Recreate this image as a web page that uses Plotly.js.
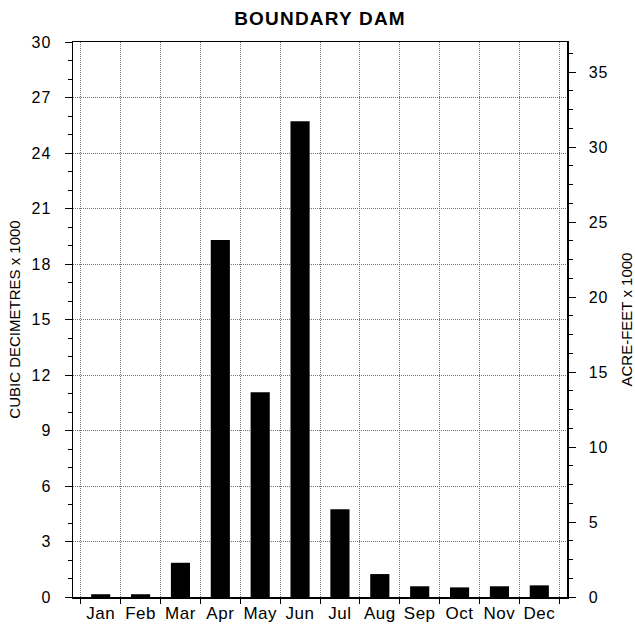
<!DOCTYPE html>
<html>
<head>
<meta charset="utf-8">
<script src="https://cdn.plot.ly/plotly-3.0.1.min.js"></script>
<style>
  html, body { margin: 0; padding: 0; background: #fff; }
  #chart { width: 635px; height: 631px; }
  /* the reference lettering is slightly wider than Arial */
  #chart .xtick text { letter-spacing: 0.5px; }
  #chart .ytick text, #chart .y2tick text { letter-spacing: 1px; }
  #chart .gtitle { letter-spacing: 1.2px; }
</style>
</head>
<body>
<div id="chart"></div>
<script>
// ---- data ----
const months = ['Jan', 'Feb', 'Mar', 'Apr', 'May', 'Jun', 'Jul', 'Aug', 'Sep', 'Oct', 'Nov', 'Dec'];
const cubicDecametres = [0.15, 0.15, 1.85, 19.3, 11.07, 25.72, 4.74, 1.24, 0.58, 0.52, 0.58, 0.63];
const leftTicks = [0, 3, 6, 9, 12, 15, 18, 21, 24, 27, 30];
const rightTicks = [0, 5, 10, 15, 20, 25, 30, 35];
const chartTitle = 'BOUNDARY DAM';
const leftTitle = 'CUBIC DECIMETRES x 1000';
const rightTitle = 'ACRE-FEET x 1000';

const FONT = 'Liberation Sans, Arial, Helvetica, sans-serif';
const leftMax = 30;
const rightMax = 37.005; // 30 thousand dam3 expressed in acre-feet

const traces = [
  {
    type: 'bar',
    x: months,
    y: cubicDecametres,
    marker: { color: '#000000', line: { width: 0 } },
    hoverinfo: 'skip',
    showlegend: false
  },
  {
    // invisible helper so the right-hand axis is drawn
    type: 'scatter',
    mode: 'markers',
    x: months,
    y: cubicDecametres,
    yaxis: 'y2',
    marker: { opacity: 0, size: 1 },
    hoverinfo: 'skip',
    showlegend: false
  }
];

const GRID = '#707070';
const GRIDDASH = '1px,1px';

const layout = {
  width: 635,
  height: 631,
  margin: { l: 73, r: 68, t: 42, b: 34, pad: 0 },
  paper_bgcolor: '#ffffff',
  plot_bgcolor: '#ffffff',
  font: { family: FONT, color: '#000000', size: 15 },
  showlegend: false,
  bargap: 0.52,
  title: {
    text: chartTitle,
    font: { family: FONT, size: 19, weight: 'bold', color: '#000000' },
    x: 0.5, xref: 'paper', xanchor: 'center',
    y: 1 - 18 / 631, yref: 'container', yanchor: 'middle'
  },
  xaxis: {
    type: 'category',
    tickson: 'boundaries',
    tickangle: 0,
    ticks: 'outside', ticklen: 5, tickwidth: 1, tickcolor: '#000000',
    showline: true, linecolor: '#000000', linewidth: 1.5, mirror: true,
    showgrid: true, gridcolor: GRID, griddash: GRIDDASH, gridwidth: 1,
    zeroline: false,
    tickfont: { family: FONT, size: 17, color: '#000000' },
    automargin: false,
    fixedrange: true
  },
  yaxis: {
    range: [0, leftMax],
    tickmode: 'array', tickvals: leftTicks, ticktext: leftTicks.map(String),
    ticks: 'outside', ticklen: 7, tickwidth: 1, tickcolor: '#000000',
    showline: true, linecolor: '#000000', linewidth: 1.5,
    showgrid: true, gridcolor: GRID, griddash: GRIDDASH, gridwidth: 1,
    zeroline: false,
    minor: { dtick: 1, tick0: 0, ticks: 'outside', ticklen: 4, tickcolor: '#000000', showgrid: false },
    tickfont: { family: FONT, size: 16, color: '#000000' },
    ticklabelstandoff: 10,
    title: { text: leftTitle, font: { family: FONT, size: 15, color: '#000000' }, standoff: 9 },
    automargin: false,
    fixedrange: true
  },
  yaxis2: {
    overlaying: 'y', side: 'right',
    range: [0, rightMax],
    tickmode: 'array', tickvals: rightTicks, ticktext: rightTicks.map(String),
    ticks: 'outside', ticklen: 7, tickwidth: 1, tickcolor: '#000000',
    showline: true, linecolor: '#000000', linewidth: 1.5,
    showgrid: false, zeroline: false,
    minor: { dtick: 1.25, tick0: 0, ticks: 'outside', ticklen: 4, tickcolor: '#000000', showgrid: false },
    tickfont: { family: FONT, size: 16, color: '#000000' },
    ticklabelstandoff: 10,
    title: { text: rightTitle, font: { family: FONT, size: 15, color: '#000000' }, standoff: 16 },
    automargin: false,
    fixedrange: true
  }
};

Plotly.newPlot('chart', traces, layout, { displayModeBar: false, staticPlot: true });
</script>
</body>
</html>
